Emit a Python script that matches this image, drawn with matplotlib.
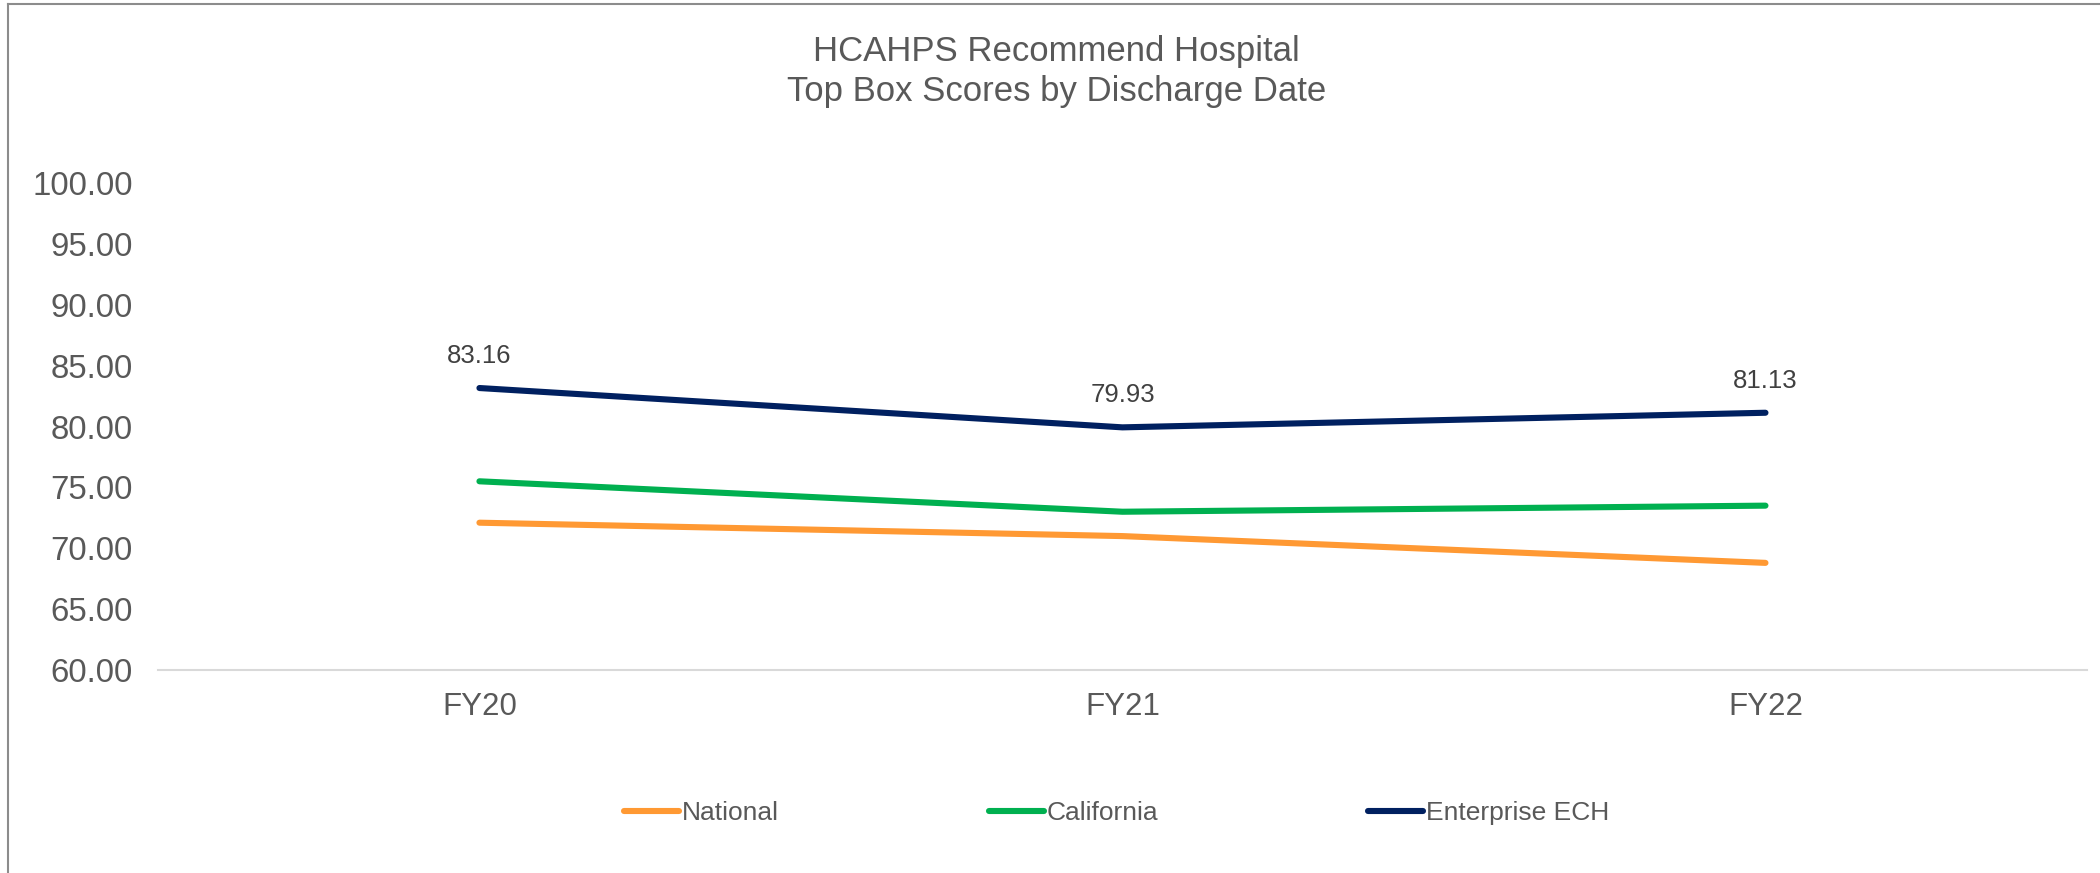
import matplotlib
matplotlib.use("Agg")
import matplotlib.pyplot as plt
from matplotlib.lines import Line2D

plt.rcParams['font.family'] = ['Liberation Sans', 'DejaVu Sans']

categories = ["FY20", "FY21", "FY22"]
national = [72.1, 71.0, 68.8]
california = [75.5, 73.0, 73.5]
enterprise = [83.16, 79.93, 81.13]
yticks = [60, 65, 70, 75, 80, 85, 90, 95, 100]

series_names = ["National", "California", "Enterprise ECH"]
colors = ["#FF9933", "#00B050", "#002060"]

fig = plt.figure(figsize=(21, 8.73), dpi=100)
ax = fig.add_axes([0.0752, 0.2325, 0.9186, 0.5579])

x = list(range(len(categories)))
for vals, c, name in zip([national, california, enterprise], colors, series_names):
    ax.plot(x, vals, color=c, lw=4.4, solid_capstyle='round', label=name)

for xi, v in zip(x, enterprise):
    ax.annotate(f"{v:.2f}", (xi, v), xytext=(0, 23), textcoords='offset points',
                ha='center', va='center', fontsize=18.5, color='#404040')

ax.set_xlim(-0.5, 2.5)
ax.set_ylim(60, 100)
ax.set_yticks(yticks)
ax.set_yticklabels([f"{t:.2f}" for t in yticks])
ax.set_xticks(x)
ax.set_xticklabels(categories)
ax.tick_params(axis='y', length=0, pad=18, labelsize=23.8, labelcolor='#595959')
ax.tick_params(axis='x', length=0, pad=16, labelsize=22.5, labelcolor='#595959')
for s in ['top', 'right', 'left']:
    ax.spines[s].set_visible(False)
ax.spines['bottom'].set_color('#D9D9D9')
ax.spines['bottom'].set_linewidth(1.5)

fig.text(0.503, 0.941, "HCAHPS Recommend Hospital", ha='center', va='center',
         fontsize=25, color='#595959')
fig.text(0.503, 0.895, "Top Box Scores by Discharge Date", ha='center', va='center',
         fontsize=25, color='#595959')

handles = [Line2D([0], [0], color=c, lw=4.4, solid_capstyle='round') for c in colors]
fig.legend(handles, series_names, loc='center', bbox_to_anchor=(0.5317, 0.0687),
           ncol=3, frameon=False, fontsize=19, handlelength=2.1, handletextpad=0.1,
           columnspacing=7.95, labelcolor='#595959')

# chart border (left and top)
fig.add_artist(Line2D([0.004, 0.004], [0, 0.995], transform=fig.transFigure,
                      color='#8C8C8C', lw=1.5))
fig.add_artist(Line2D([0.004, 1.0], [0.995, 0.995], transform=fig.transFigure,
                      color='#8C8C8C', lw=1.5))

fig.savefig("out.png", dpi=100, facecolor='white')
